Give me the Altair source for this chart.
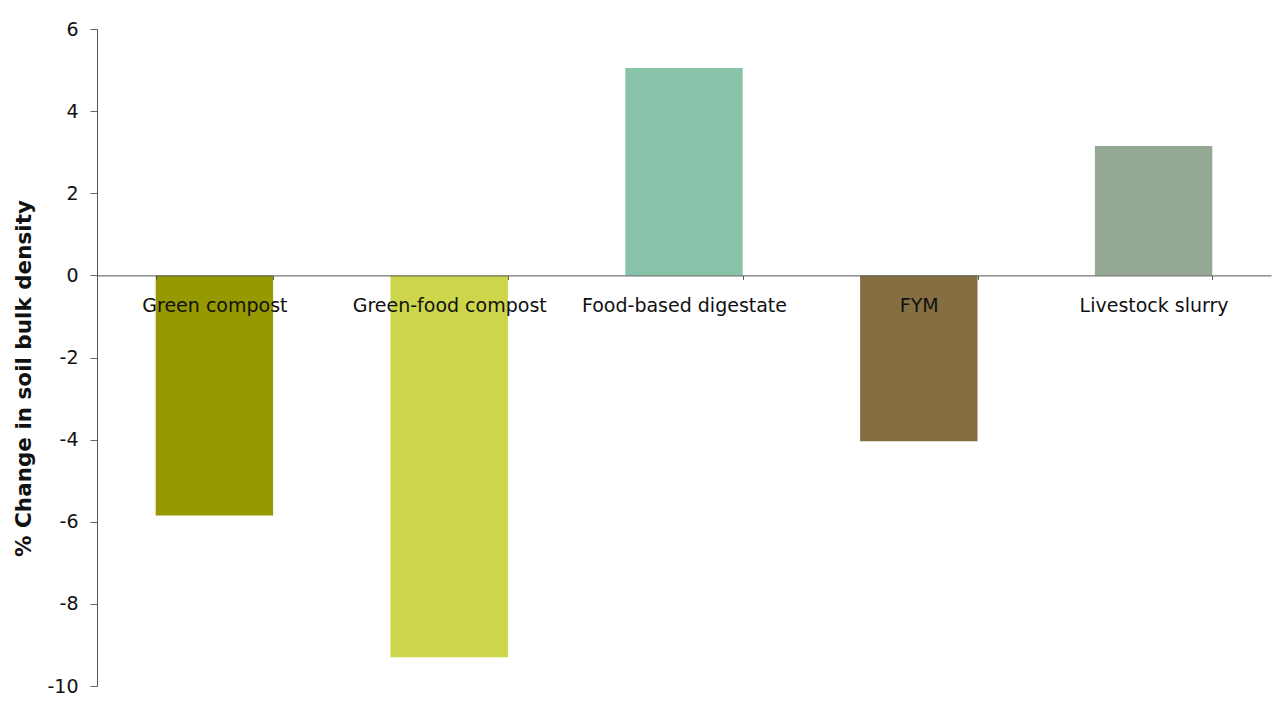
import altair as alt
import pandas as pd

# Percentage change in soil bulk density by organic material
materials = ["Green compost", "Green-food compost", "Food-based digestate", "FYM", "Livestock slurry"]
changes = [-5.85, -9.3, 5.05, -4.04, 3.15]
bar_colors = ["#979900", "#cdd64a", "#86c3a8", "#856e42", "#94a894"]
y_ticks = [-10, -8, -6, -4, -2, 0, 2, 4, 6]

df = pd.DataFrame({"material": materials, "change": changes})

FONT = "DejaVu Sans"

bars = alt.Chart(df).mark_bar().encode(
    x=alt.X(
        "material:N",
        sort=materials,
        scale=alt.Scale(paddingInner=0.5, paddingOuter=0.25),
        axis=alt.Axis(
            title=None,
            labelAngle=0,
            labelFont=FONT,
            labelFontSize=19,
            labelColor="#111111",
            labelPadding=17,
            labelLimit=0,
            labelOverlap=False,
            tickBand="extent",
            tickSize=4,
            tickColor="#555555",
            domainColor="#555555",
            offset=-410.6,
            zindex=1,
        ),
    ),
    y=alt.Y(
        "change:Q",
        scale=alt.Scale(domain=[-10, 6], nice=False),
        axis=alt.Axis(
            title="% Change in soil bulk density",
            values=y_ticks,
            labelExpr="datum.value < 0 ? '-' + abs(datum.value) : '' + datum.value",
            grid=False,
            labelFont=FONT,
            labelFontSize=19,
            labelColor="#111111",
            labelPadding=12,
            tickSize=7,
            tickColor="#666666",
            domainColor="#555555",
            titleFont=FONT,
            titleFontSize=21.5,
            titleFontWeight="bold",
            titleColor="#111111",
            titleX=-62,
            titleY=349,
        ),
    ),
    color=alt.Color(
        "material:N",
        sort=materials,
        scale=alt.Scale(domain=materials, range=bar_colors),
        legend=None,
    ),
)

chart = bars.properties(
    width=1174,
    height=657,
    autosize=alt.AutoSizeParams(type="none"),
    padding={"left": 97, "top": 29, "right": 8, "bottom": 21},
    background="white",
).configure_view(stroke=None)

chart.save("out.html", embed_options={"renderer": "svg", "actions": False})
